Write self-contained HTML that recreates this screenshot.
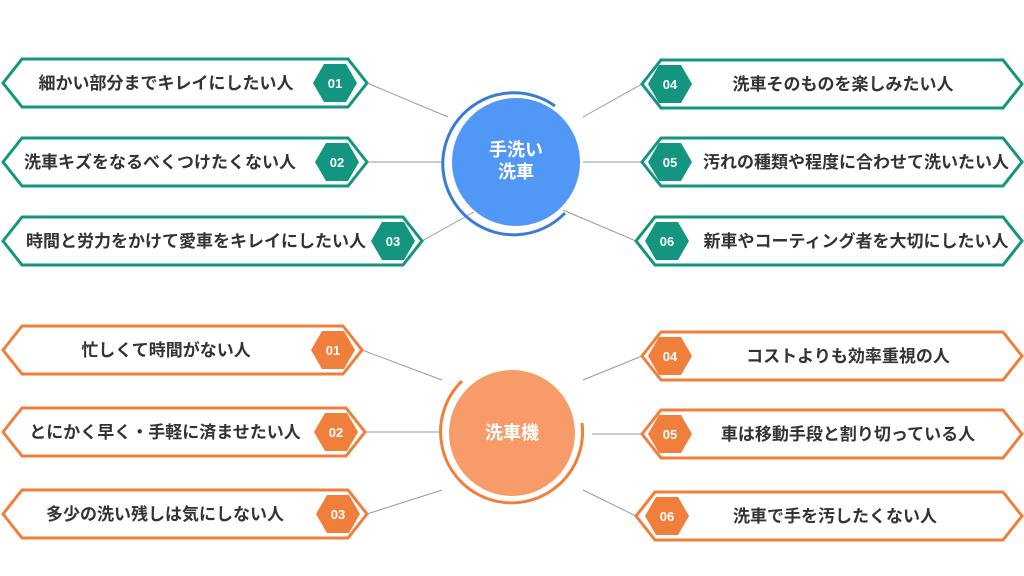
<!DOCTYPE html>
<html><head><meta charset="utf-8"><style>
html,body{margin:0;padding:0;background:#fff;}
svg{display:block}
text{font-family:"Liberation Sans","Noto Sans CJK JP",sans-serif;}
.t{font-size:17px;fill:#333;font-weight:bold;}
.n{font-size:13px;fill:#fff;font-weight:bold;}
</style></head><body>
<svg width="1024" height="576" viewBox="0 0 1024 576" xmlns="http://www.w3.org/2000/svg">
<g stroke="#999" stroke-width="1" fill="none">
<line x1="367" y1="83" x2="448" y2="117"/>
<line x1="367" y1="162" x2="442" y2="162"/>
<line x1="422" y1="241" x2="474" y2="212"/>
<line x1="642" y1="84" x2="583" y2="117"/>
<line x1="642" y1="162" x2="583" y2="162"/>
<line x1="636" y1="241" x2="563" y2="210"/>
<line x1="362" y1="350" x2="442" y2="380"/>
<line x1="365" y1="432" x2="442" y2="432"/>
<line x1="367" y1="514" x2="442" y2="490"/>
<line x1="642" y1="356" x2="583" y2="380"/>
<line x1="642" y1="434" x2="592" y2="434"/>
<line x1="636" y1="516" x2="583" y2="490"/>
</g>
<circle cx="516" cy="162" r="64" fill="#5197f5"/>
<path d="M 555 106 A 71 71 0 1 0 565 213" stroke="#3a7bd5" stroke-width="3" fill="none"/>
<text x="516" y="156" text-anchor="middle" font-size="18" font-weight="bold" fill="#fff">手洗い</text>
<text x="516" y="178" text-anchor="middle" font-size="18" font-weight="bold" fill="#fff">洗車</text>
<circle cx="512" cy="433" r="63" fill="#f79c68"/>
<path d="M 462 381 A 71 71 0 1 0 582 423" stroke="#f07f3c" stroke-width="3" fill="none"/>
<text x="512" y="439" text-anchor="middle" font-size="18" font-weight="bold" fill="#fff">洗車機</text>

<g stroke-width="3" fill="#fff" stroke-linejoin="miter">
<polygon stroke="#13957f" points="3,83 22,59 348,59 367,83 348,107 22,107"/>
<polygon stroke="#13957f" points="3,162 22,138 348,138 367,162 348,186 22,186"/>
<polygon stroke="#13957f" points="3,241 22,217 403,217 422,241 403,265 22,265"/>
<polygon stroke="#13957f" points="642,84 661,60 1003,60 1022,84 1003,108 661,108"/>
<polygon stroke="#13957f" points="642,162 661,138 1003,138 1022,162 1003,186 661,186"/>
<polygon stroke="#13957f" points="636,241 655,217 1003,217 1022,241 1003,265 655,265"/>
<polygon stroke="#f07f3c" points="3,350 22,326 343,326 362,350 343,374 22,374"/>
<polygon stroke="#f07f3c" points="3,432 22,408 346,408 365,432 346,456 22,456"/>
<polygon stroke="#f07f3c" points="3,514 22,490 348,490 367,514 348,538 22,538"/>
<polygon stroke="#f07f3c" points="642,356 661,332 1003,332 1022,356 1003,380 661,380"/>
<polygon stroke="#f07f3c" points="642,434 661,410 1003,410 1022,434 1003,458 661,458"/>
<polygon stroke="#f07f3c" points="636,516 655,492 1003,492 1022,516 1003,540 655,540"/>
</g>

<g>
<polygon fill="#13957f" points="313,83 324,64 346,64 357,83 346,102 324,102"/>
<polygon fill="#13957f" points="315,162 326,143 348,143 359,162 348,181 326,181"/>
<polygon fill="#13957f" points="371,241 382,222 404,222 415,241 404,260 382,260"/>
<polygon fill="#13957f" points="648,84 659,65 681,65 692,84 681,103 659,103"/>
<polygon fill="#13957f" points="648,162 659,143 681,143 692,162 681,181 659,181"/>
<polygon fill="#13957f" points="645,241 656,222 678,222 689,241 678,260 656,260"/>
<polygon fill="#f07f3c" points="311,350 322,331 344,331 355,350 344,369 322,369"/>
<polygon fill="#f07f3c" points="314,432 325,413 347,413 358,432 347,451 325,451"/>
<polygon fill="#f07f3c" points="316,514 327,495 349,495 360,514 349,533 327,533"/>
<polygon fill="#f07f3c" points="648,356 659,337 681,337 692,356 681,375 659,375"/>
<polygon fill="#f07f3c" points="648,434 659,415 681,415 692,434 681,453 659,453"/>
<polygon fill="#f07f3c" points="645,516 656,497 678,497 689,516 678,535 656,535"/>
</g>
<g text-anchor="middle">
<text class="n" x="335" y="88">01</text>
<text class="n" x="337" y="167">02</text>
<text class="n" x="393" y="246">03</text>
<text class="n" x="670" y="89">04</text>
<text class="n" x="670" y="167">05</text>
<text class="n" x="667" y="246">06</text>
<text class="n" x="333" y="355">01</text>
<text class="n" x="336" y="437">02</text>
<text class="n" x="338" y="519">03</text>
<text class="n" x="670" y="361">04</text>
<text class="n" x="670" y="439">05</text>
<text class="n" x="667" y="521">06</text>
</g>
<g text-anchor="middle">
<text class="t" x="166" y="89">細かい部分までキレイにしたい人</text>
<text class="t" x="160" y="168">洗車キズをなるべくつけたくない人</text>
<text class="t" x="196" y="247">時間と労力をかけて愛車をキレイにしたい人</text>
<text class="t" x="843" y="90">洗車そのものを楽しみたい人</text>
<text class="t" x="856" y="168">汚れの種類や程度に合わせて洗いたい人</text>
<text class="t" x="856" y="247">新車やコーティング者を大切にしたい人</text>
<text class="t" x="166" y="356">忙しくて時間がない人</text>
<text class="t" x="165" y="438">とにかく早く・手軽に済ませたい人</text>
<text class="t" x="165" y="520">多少の洗い残しは気にしない人</text>
<text class="t" x="848" y="362">コストよりも効率重視の人</text>
<text class="t" x="848" y="440">車は移動手段と割り切っている人</text>
<text class="t" x="835" y="522">洗車で手を汚したくない人</text>
</g>
</svg>
</body></html>
